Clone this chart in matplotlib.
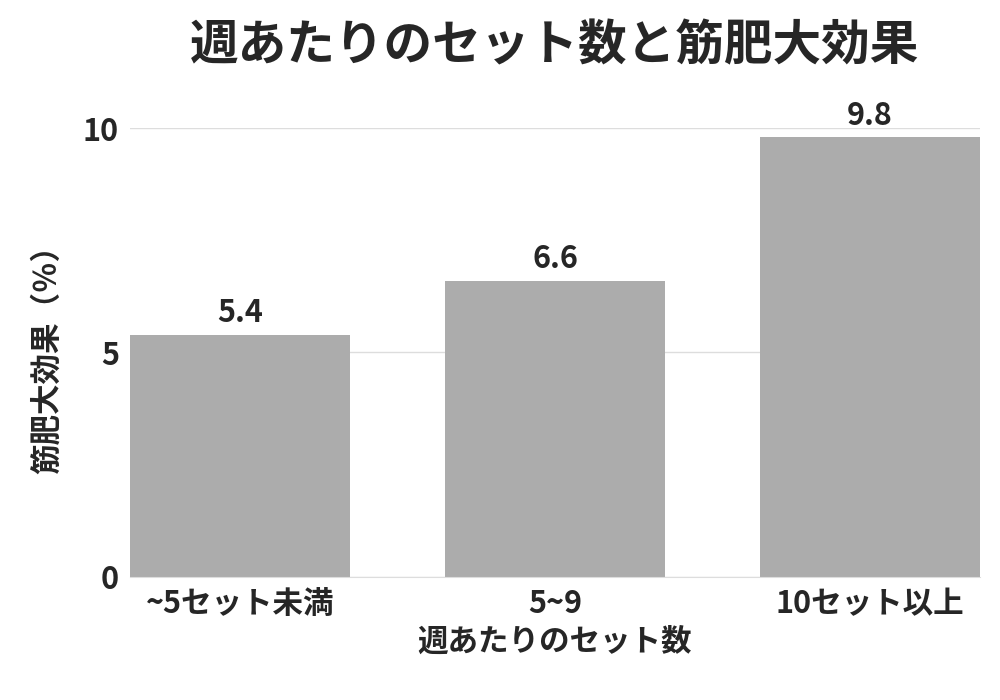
import matplotlib
matplotlib.use("Agg")
import matplotlib.pyplot as plt

categories = ["~5セット未満", "5~9", "10セット以上"]
values = [5.4, 6.6, 9.8]
yticks = [0, 5, 10]

plt.rcParams['font.family'] = ['Noto Sans CJK JP', 'DejaVu Sans']
fig = plt.figure(figsize=(10, 7), dpi=100)
ax = fig.add_axes([0.13, 0.176, 0.85, 0.641])
x = range(len(categories))
ax.bar(x, values, width=0.7, color="#acacac", zorder=2)
c = "#262626"
for xi, v in zip(x, values):
    ax.text(xi, v + 0.12, f"{v}", ha="center", va="bottom", fontsize=22, fontweight="bold", color=c)
ax.set_xlim(-0.35, 2.35)
ax.set_ylim(0, 10)
ax.set_yticks(yticks)
ax.set_yticklabels([str(t) for t in yticks], fontsize=22, fontweight="bold", color=c)
ax.set_xticks(list(x))
ax.set_xticklabels(categories, fontsize=22, fontweight="bold", color=c)
ax.grid(axis="y", color="#dddddd", linewidth=1, zorder=0)
for s in ["top", "right", "left"]:
    ax.spines[s].set_visible(False)
ax.spines["bottom"].set_color("#dddddd")
ax.tick_params(length=0, pad=8)
ax.set_xlabel("週あたりのセット数", fontsize=22, fontweight="bold", color=c, labelpad=4)
ax.set_ylabel("筋肥大効果（％）", fontsize=22, fontweight="bold", color=c, labelpad=14)
fig.text(0.555, 0.935, "週あたりのセット数と筋肥大効果", ha="center", va="center", fontsize=35, fontweight="bold", color=c)
fig.savefig("out.png")
